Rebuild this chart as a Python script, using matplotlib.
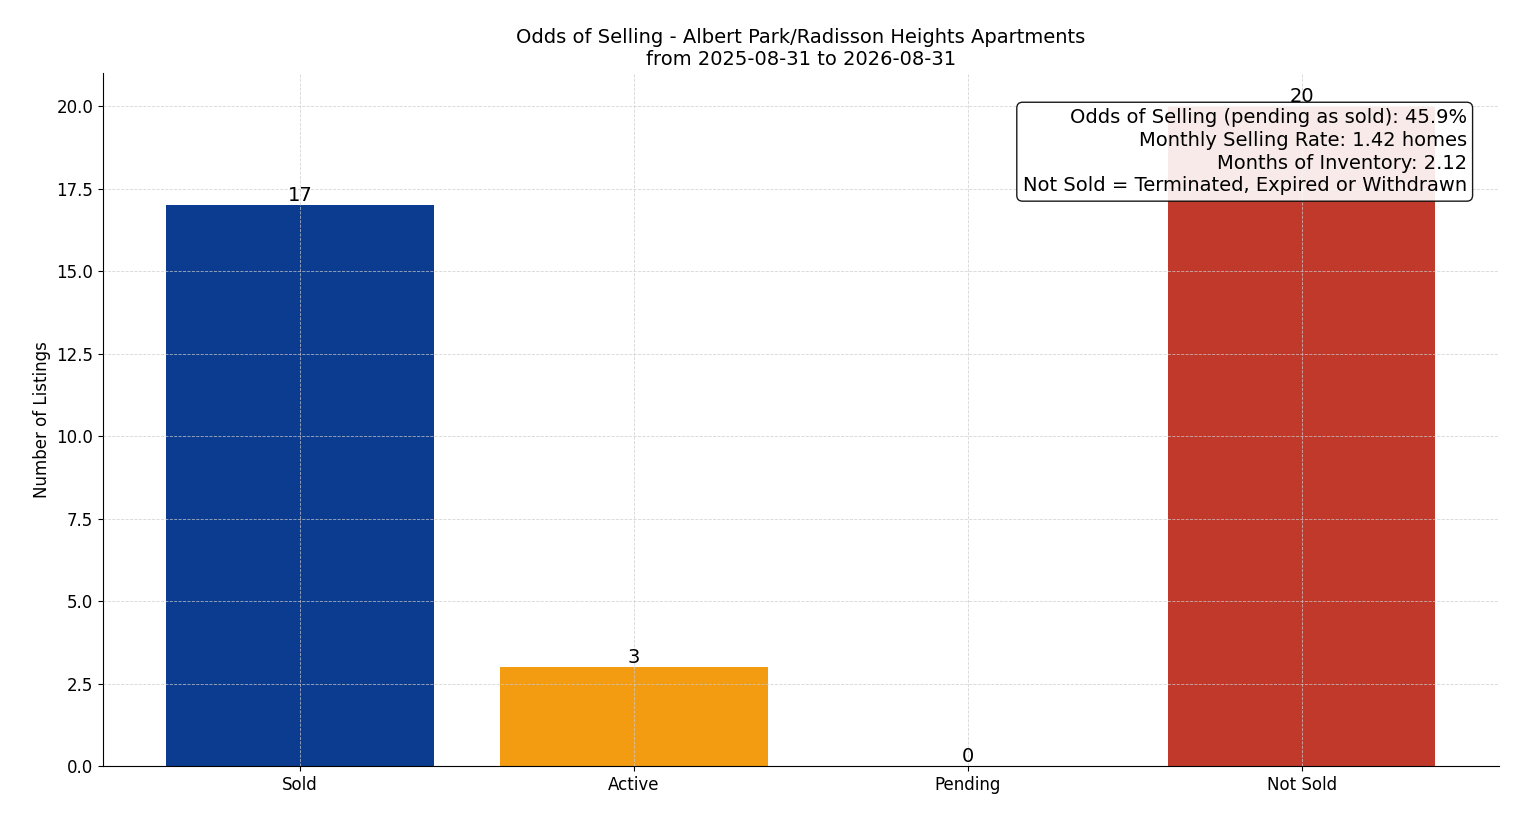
import matplotlib
matplotlib.use("Agg")
import matplotlib.pyplot as plt

# Data
categories = ["Sold", "Active", "Pending", "Not Sold"]
counts = [17, 3, 0, 20]
colors = ["#0b3c8f", "#f39c12", "#7f8c8d", "#c0392b"]
title = "Odds of Selling - Albert Park/Radisson Heights Apartments\nfrom 2025-08-31 to 2026-08-31"
info_lines = [
    "Odds of Selling (pending as sold): 45.9%",
    "Monthly Selling Rate: 1.42 homes",
    "Months of Inventory: 2.12",
    "Not Sold = Terminated, Expired or Withdrawn",
]

fig, ax = plt.subplots(figsize=(15.14, 8.16), dpi=100)
fig.subplots_adjust(left=0.068, right=0.99, top=0.91, bottom=0.061)

bars = ax.bar(categories, counts, color=colors, width=0.8)
for b, v in zip(bars, counts):
    ax.text(b.get_x() + b.get_width() / 2, v, str(v), ha="center", va="bottom", fontsize=14)

ax.set_ylim(0, 21)
ax.set_ylabel("Number of Listings", fontsize=12)
ax.set_title(title, fontsize=14)
ax.tick_params(labelsize=12)
ax.grid(True, linestyle="--", linewidth=0.6, color="#cccccc", alpha=0.8)
ax.set_axisbelow(False)
ax.spines["top"].set_visible(False)
ax.spines["right"].set_visible(False)

ax.text(0.977, 0.95, "\n".join(info_lines), transform=ax.transAxes, ha="right", va="top",
        fontsize=14, linespacing=1.25,
        bbox=dict(boxstyle="round,pad=0.3", facecolor="white", edgecolor="black", alpha=0.9))

plt.savefig("out.png", dpi=100)
